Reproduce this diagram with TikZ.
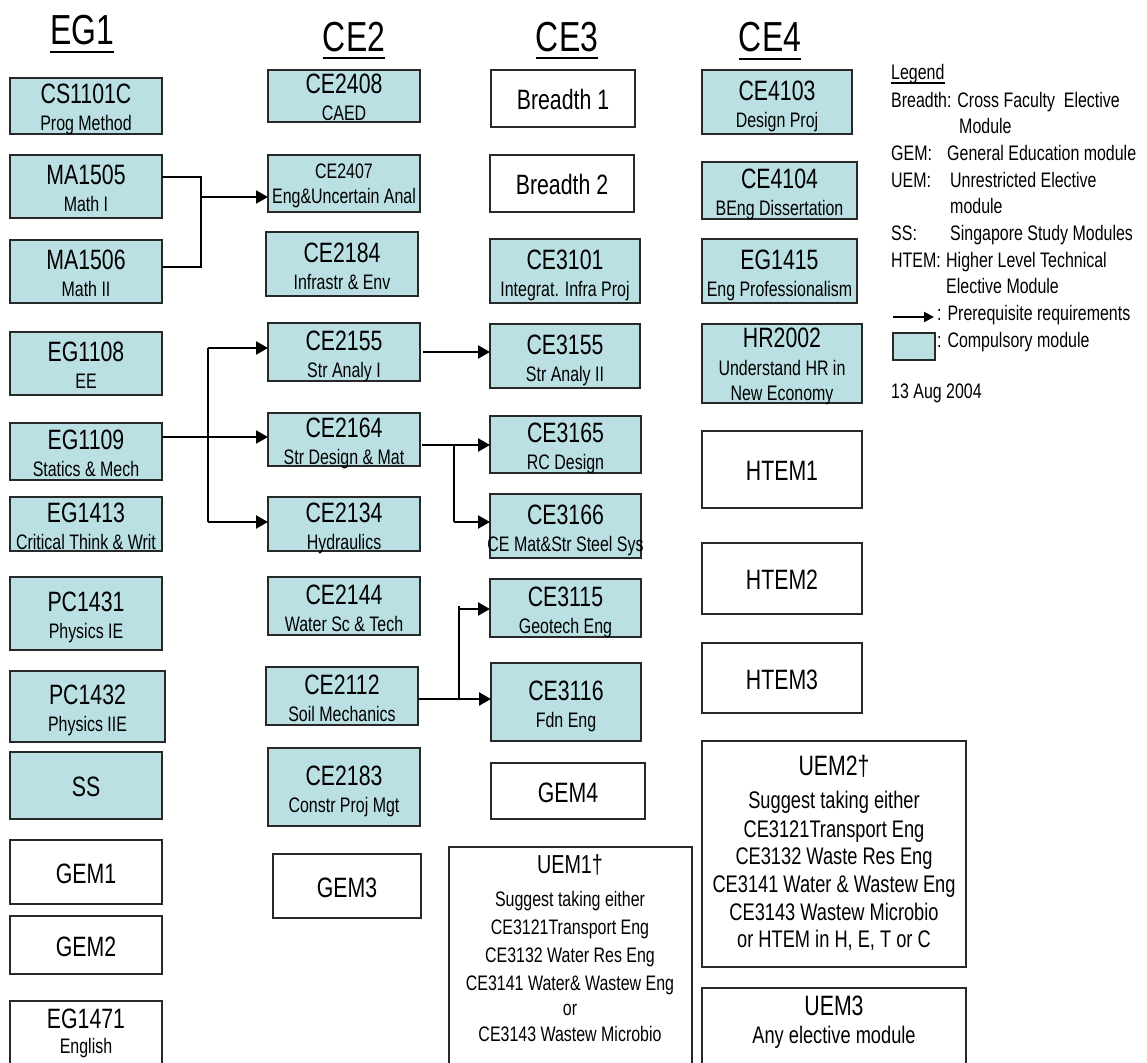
\documentclass[tikz,border=0pt]{standalone}
\usepackage{fontspec}
\setmainfont{Liberation Sans}[FakeStretch=0.76]
\usetikzlibrary{arrows.meta}
\definecolor{modfill}{RGB}{187,224,227}
\definecolor{edge}{RGB}{40,40,40}
\tikzset{
  modbox/.style={rectangle, draw=edge, line width=1.3pt, fill=modfill, inner sep=0pt, outer sep=0pt},
  freebox/.style={rectangle, draw=edge, line width=1.3pt, fill=white, inner sep=0pt, outer sep=0pt},
  codetxt/.style={inner sep=0pt, font=\fontsize{28}{30}\selectfont},
  subtxt/.style={inner sep=0pt, font=\fontsize{21}{23}\selectfont},
  midtxt/.style={inner sep=0pt, font=\fontsize{24}{26}\selectfont},
  titletxt/.style={inner sep=0pt, font=\fontsize{42}{44}\selectfont},
  legtxt/.style={inner sep=0pt, anchor=base west, font=\fontsize{21}{23}\selectfont},
  arr/.style={line width=2.2pt, -{Triangle[length=12pt,width=13pt]}},
  legarr/.style={line width=2pt, -{Triangle[length=10pt,width=10pt]}},
  conn/.style={line width=1.2pt},
  thickconn/.style={line width=2.2pt},
  uline/.style={line width=2pt},
}
% name, x1, y1, x2, y2, style, code, subtitle
\newcommand\Mod[8]{%
  \node[#6, minimum width={#4pt-#2pt}, minimum height={#5pt-#3pt}, anchor=north west] (#1) at (#2,#3) {};
  \node[codetxt, anchor=base] (#1c) at ([yshift=2pt]#1.center) {#7};
  \node[subtxt, anchor=base] (#1s) at ([yshift=-25pt]#1.center) {#8};
}
% name, x1, y1, x2, y2, style, text
\newcommand\Sgl[7]{%
  \node[#6, minimum width={#4pt-#2pt}, minimum height={#5pt-#3pt}, anchor=north west] (#1) at (#2,#3) {};
  \node[codetxt, anchor=base] (#1c) at ([yshift=-11pt]#1.center) {#7};
}
% name, x1, y1, x2, y2, style
\newcommand\Frame[6]{%
  \node[#6, minimum width={#4pt-#2pt}, minimum height={#5pt-#3pt}, anchor=north west] (#1) at (#2,#3) {};
}
\begin{document}
\begin{tikzpicture}[x=1pt,y=-1pt]
\useasboundingbox (0,0) rectangle (1147,1062);
\clip (0,0) rectangle (1147,1062);
\fill[white] (0,0) rectangle (1147,1062);

% ---- column titles
\node[titletxt, anchor=base] (tEG1) at (82,45) {EG1};
\draw[uline] ([yshift=-7pt]tEG1.base west) -- ([yshift=-7pt]tEG1.base east);
\node[titletxt, anchor=base] (tCE2) at (354,52) {CE2};
\draw[uline] ([yshift=-6pt]tCE2.base west) -- ([yshift=-6pt]tCE2.base east);
\node[titletxt, anchor=base] (tCE3) at (567,52) {CE3};
\draw[uline] ([yshift=-6pt]tCE3.base west) -- ([yshift=-6pt]tCE3.base east);
\node[titletxt, anchor=base] (tCE4) at (770,52) {CE4};
\draw[uline] ([yshift=-7pt]tCE4.base west) -- ([yshift=-7pt]tCE4.base east);

% ---- column 1
\Mod{CS1101C}{10}{78}{162}{134}{modbox}{CS1101C}{Prog Method}
\Mod{MA1505}{10}{155}{162}{218}{modbox}{MA1505}{Math I}
\Mod{MA1506}{10}{240}{162}{303}{modbox}{MA1506}{Math II}
\Mod{EG1108}{10}{332}{162}{395}{modbox}{EG1108}{EE}
\Mod{EG1109}{10}{423}{162}{480}{modbox}{EG1109}{Statics \& Mech}
\Mod{EG1413}{10}{497}{162}{551}{modbox}{EG1413}{Critical Think \& Writ}
\Mod{PC1431}{10}{577}{162}{650}{modbox}{PC1431}{Physics IE}
\Mod{PC1432}{10}{671}{165}{742}{modbox}{PC1432}{Physics IIE}
\Sgl{SS}{10}{752}{162}{819}{modbox}{SS}
\Sgl{GEM1}{10}{840}{162}{904}{freebox}{GEM1}
\Sgl{GEM2}{10}{916}{162}{974}{freebox}{GEM2}
\Frame{EG1471}{10}{1001}{162}{1080}{freebox}
\node[codetxt, anchor=base] (EG1471c) at (86,1028) {EG1471};
\node[subtxt, anchor=base] (EG1471s) at (86,1053) {English};

% ---- column 2
\Mod{CE2408}{268}{70}{420}{122}{modbox}{CE2408}{CAED}
\Frame{CE2407}{268}{155}{420}{212}{modbox}
\node[subtxt, anchor=base] (CE2407c) at (344,178) {CE2407};
\node[subtxt, anchor=base] (CE2407s) at (344,203) {Eng\&Uncertain Anal};
\Mod{CE2184}{266}{232}{418}{296}{modbox}{CE2184}{Infrastr \& Env}
\Mod{CE2155}{268}{323}{420}{381}{modbox}{CE2155}{Str Analy I}
\Mod{CE2164}{268}{413}{420}{466}{modbox}{CE2164}{Str Design \& Mat}
\Mod{CE2134}{268}{497}{420}{551}{modbox}{CE2134}{Hydraulics}
\Mod{CE2144}{268}{577}{420}{635}{modbox}{CE2144}{Water Sc \& Tech}
\Mod{CE2112}{266}{667}{418}{725}{modbox}{CE2112}{Soil Mechanics}
\Mod{CE2183}{268}{748}{420}{826}{modbox}{CE2183}{Constr Proj Mgt}
\Sgl{GEM3}{273}{854}{421}{918}{freebox}{GEM3}

% ---- column 3
\Sgl{Br1}{491}{70}{635}{127}{freebox}{Breadth 1}
\Sgl{Br2}{490}{155}{634}{212}{freebox}{Breadth 2}
\Mod{CE3101}{490}{239}{640}{303}{modbox}{CE3101}{Integrat. Infra Proj}
\Mod{CE3155}{490}{324}{640}{388}{modbox}{CE3155}{Str Analy II}
\Mod{CE3165}{490}{416}{641}{473}{modbox}{CE3165}{RC Design}
\Mod{CE3166}{490}{494}{641}{558}{modbox}{CE3166}{CE Mat\&Str Steel Sys}
\Mod{CE3115}{490}{579}{641}{637}{modbox}{CE3115}{Geotech Eng}
\Mod{CE3116}{491}{663}{641}{741}{modbox}{CE3116}{Fdn Eng}
\Sgl{GEM4}{491}{763}{645}{819}{freebox}{GEM4}
\Frame{UEM1}{449}{847}{692}{1080}{freebox}
\node[inner sep=0pt, anchor=base, font=\fontsize{26}{28}\selectfont] (UEM1a) at (570,873) {UEM1†};
\node[subtxt, anchor=base] (UEM1b) at (570,906) {Suggest taking either};
\node[subtxt, anchor=base] (UEM1c) at (570,934) {CE3121Transport Eng};
\node[subtxt, anchor=base] (UEM1d) at (570,962) {CE3132 Water Res Eng};
\node[subtxt, anchor=base] (UEM1e) at (570,990) {CE3141 Water\& Wastew Eng};
\node[subtxt, anchor=base] (UEM1f) at (570,1015) {or};
\node[subtxt, anchor=base] (UEM1g) at (570,1041) {CE3143 Wastew Microbio};

% ---- column 4
\Mod{CE4103}{702}{70}{852}{134}{modbox}{CE4103}{Design Proj}
\Mod{CE4104}{702}{162}{857}{219}{modbox}{CE4104}{BEng Dissertation}
\Mod{EG1415}{702}{239}{857}{303}{modbox}{EG1415}{Eng Professionalism}
\Frame{HR2002}{702}{324}{862}{403}{modbox}
\node[codetxt, anchor=base] (HR2002c) at (782,347) {HR2002};
\node[subtxt, anchor=base] (HR2002s) at (782,375) {Understand HR in};
\node[subtxt, anchor=base] (HR2002t) at (782,400) {New Economy};
\Sgl{HTEM1}{702}{431}{862}{508}{freebox}{HTEM1}
\Sgl{HTEM2}{702}{543}{862}{614}{freebox}{HTEM2}
\Sgl{HTEM3}{702}{643}{862}{713}{freebox}{HTEM3}
\Frame{UEM2}{702}{741}{966}{967}{freebox}
\node[codetxt, anchor=base] (UEM2a) at (834,775) {UEM2†};
\node[midtxt, anchor=base] (UEM2b) at (834,808) {Suggest taking either};
\node[midtxt, anchor=base] (UEM2c) at (834,837) {CE3121Transport Eng};
\node[midtxt, anchor=base] (UEM2d) at (834,864) {CE3132 Waste Res Eng};
\node[midtxt, anchor=base] (UEM2e) at (834,892) {CE3141 Water \& Wastew Eng};
\node[midtxt, anchor=base] (UEM2f) at (834,920) {CE3143 Wastew Microbio};
\node[midtxt, anchor=base] (UEM2g) at (834,947) {or HTEM in H, E, T or C};
\Frame{UEM3}{702}{988}{966}{1080}{freebox}
\node[codetxt, anchor=base] (UEM3a) at (834,1015) {UEM3};
\node[midtxt, anchor=base] (UEM3b) at (834,1043) {Any elective module};

% ---- connectors
\draw[conn] ([yshift=9.5pt]MA1505.east) -- ++(39,0) |- ([yshift=4.5pt]MA1506.east);
\coordinate (jm) at (201,197);
\draw[arr] (jm) -- (jm -| CE2407.west);

\coordinate (r3) at (185,437);
\draw[arr] (EG1109.east |- r3) -- (r3 -| CE2164.west);
\coordinate (r1) at (208,348);
\coordinate (r2) at (208,522);
\draw[conn] (r1) -- (r2);
\draw[arr] (r1) -- (r1 -| CE2155.west);
\draw[arr] (r2) -- (r2 -| CE2134.west);

\coordinate (r4) at (430,352);
\draw[arr] ([xshift=3pt]CE2155.east |- r4) -- (r4 -| CE3155.west);

\coordinate (r5) at (454,445);
\coordinate (r6) at (454,522);
\draw[arr] ([xshift=2pt]CE2164.east |- r5) -- (r5 -| CE3165.west);
\draw[thickconn] (r5) -- (r6);
\draw[arr] (r6) -- (r6 -| CE3166.west);

\coordinate (r7) at (459,699);
\coordinate (r8) at (459,609);
\draw[arr] (CE2112.east |- r7) -- (r7 -| CE3116.west);
\draw[conn] (r7) -- ([yshift=3pt]r8);
\draw[arr] (r8) -- (r8 -| CE3115.west);

% ---- legend
\node[legtxt] (lg1) at (891,80) {Legend};
\draw[line width=1.2pt] ([yshift=-3pt]lg1.base west) -- ([yshift=-3pt]lg1.base east);
\node[legtxt] (lg2) at (891,107) {Breadth: Cross Faculty\ \ Elective};
\node[legtxt] (lg3) at (959,133) {Module};
\node[legtxt] (lg4) at (891,160) {GEM:};
\node[legtxt] (lg4b) at (947,160) {General Education module};
\node[legtxt] (lg5) at (891,187) {UEM:};
\node[legtxt] (lg5b) at (950,187) {Unrestricted Elective};
\node[legtxt] (lg6) at (950,213) {module};
\node[legtxt] (lg7) at (891,240) {SS:};
\node[legtxt] (lg7b) at (950,240) {Singapore Study Modules};
\node[legtxt] (lg8) at (891,267) {HTEM:};
\node[legtxt] (lg8b) at (946,267) {Higher Level Technical};
\node[legtxt] (lg9) at (946,293) {Elective Module};
\coordinate (la1) at (893,317);
\coordinate (la2) at (934,317);
\draw[legarr] (la1) -- (la2);
\node[legtxt] (lg10) at (937,320) {: Prerequisite requirements};
\Frame{lgbox}{893}{333}{935}{360}{modbox}
\node[legtxt] (lg11) at (937,347) {: Compulsory module};
\node[legtxt] (lg12) at (891,398) {13 Aug 2004};
\end{tikzpicture}
\end{document}
